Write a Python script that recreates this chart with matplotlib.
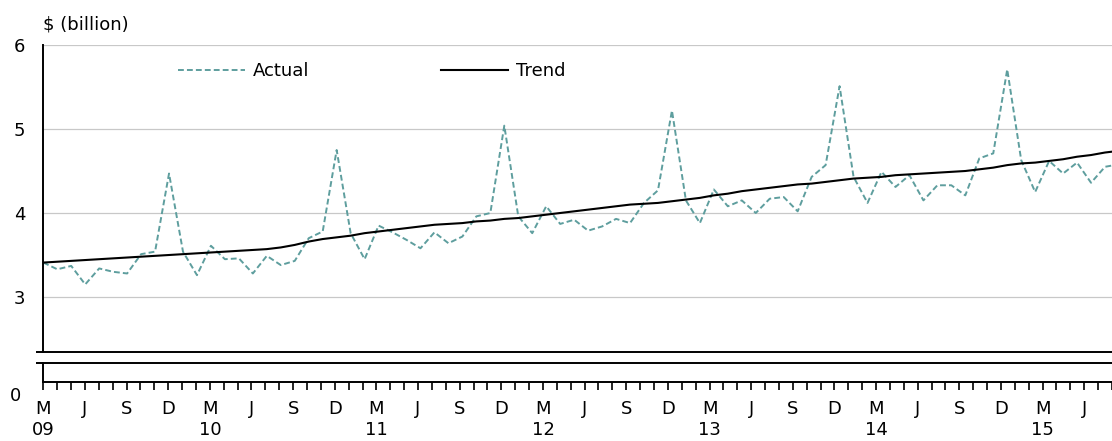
import numpy as np
import matplotlib
matplotlib.use('Agg')
import matplotlib.pyplot as plt

# monthly values, March 2009 onwards ($ billion)
actual = [3.41, 3.33, 3.37, 3.15, 3.34, 3.30, 3.28, 3.51, 3.54, 4.47, 3.54, 3.26,
          3.61, 3.45, 3.46, 3.28, 3.49, 3.38, 3.43, 3.70, 3.78, 4.75, 3.76, 3.45,
          3.85, 3.77, 3.68, 3.58, 3.77, 3.64, 3.72, 3.96, 4.00, 5.04, 3.96, 3.76,
          4.08, 3.87, 3.92, 3.79, 3.84, 3.93, 3.88, 4.12, 4.27, 5.22, 4.15, 3.88,
          4.28, 4.08, 4.15, 4.00, 4.17, 4.19, 4.02, 4.43, 4.57, 5.51, 4.43, 4.12,
          4.49, 4.31, 4.45, 4.15, 4.33, 4.33, 4.21, 4.65, 4.71, 5.71, 4.63, 4.25,
          4.62, 4.47, 4.60, 4.36, 4.55, 4.58]
trend = [3.41, 3.42, 3.43, 3.44, 3.45, 3.46, 3.47, 3.48, 3.49, 3.50, 3.51, 3.52,
         3.53, 3.54, 3.55, 3.56, 3.57, 3.59, 3.62, 3.66, 3.69, 3.71, 3.73, 3.76,
         3.78, 3.80, 3.82, 3.84, 3.86, 3.87, 3.88, 3.90, 3.91, 3.93, 3.94, 3.96,
         3.98, 4.00, 4.02, 4.04, 4.06, 4.08, 4.10, 4.11, 4.12, 4.14, 4.16, 4.18,
         4.21, 4.23, 4.26, 4.28, 4.30, 4.32, 4.34, 4.35, 4.37, 4.39, 4.41, 4.42,
         4.43, 4.45, 4.46, 4.47, 4.48, 4.49, 4.50, 4.52, 4.54, 4.57, 4.59, 4.60,
         4.62, 4.64, 4.67, 4.69, 4.72, 4.74]
years = ["09", "10", "11", "12", "13", "14", "15"]
quarters = ["M", "J", "S", "D"]
y_ticks = [3, 4, 5, 6]

x = np.arange(len(actual))
labels = []
for i in range(len(actual)):
    if i % 3 == 0:
        q = quarters[(i // 3) % 4]
        labels.append(q + "\n" + years[i // 12] if q == "M" else q)
    else:
        labels.append("")

W, H = 1112, 441
fs = 13
fig = plt.figure(figsize=(W / 100, H / 100), dpi=100)

x0, x1 = 43.3, 1112
ylo = 6 - (351.5 - 45) / 84

# upper panel
ax = fig.add_axes([x0 / W, 1 - 351.5 / H, (x1 - x0) / W, (351.5 - 45) / H])
ax.set_xlim(0, 76.5)
ax.set_ylim(ylo, 6)
ax.set_yticks(y_ticks)
ax.yaxis.grid(True, color='#c8c8c8', lw=0.9)
ax.set_axisbelow(True)
for s in ['top', 'right']:
    ax.spines[s].set_visible(False)
for s in ['left', 'bottom']:
    ax.spines[s].set_linewidth(1.4)
ax.tick_params(axis='y', length=0, pad=13, labelsize=fs)
ax.set_yticks([ylo], minor=True)
ax.tick_params(axis='y', which='minor', length=5, width=1.4, direction='out')
ax.tick_params(axis='x', bottom=False, labelbottom=False)

ax.plot(x, actual, color='#5e9e9e', lw=1.4, ls=(0, (3, 1.6)), label='Actual')
ax.plot(x, trend, color='black', lw=1.5, label='Trend')

ax.legend(ncol=2, loc='center left', bbox_to_anchor=(178 / W, 1 - 71 / H),
          bbox_transform=fig.transFigure, frameon=False, fontsize=fs,
          handlelength=3.7, handletextpad=0.45, columnspacing=7.3,
          borderpad=0, borderaxespad=0)

# lower panel (axis break down to zero)
ax2 = fig.add_axes([x0 / W, 1 - 381.7 / H, (x1 - x0) / W, (381.7 - 363.3) / H])
ax2.set_xlim(0, 76.5)
ax2.set_ylim(0, 1)
ax2.spines['right'].set_visible(False)
for s in ['left', 'top', 'bottom']:
    ax2.spines[s].set_linewidth(1.4)
ax2.set_yticks([])
ax2.set_yticks([1], minor=True)
ax2.tick_params(axis='y', which='minor', length=5, width=1.4, direction='out',
                labelleft=False)
ax2.set_xticks(x)
ax2.set_xticklabels(labels, linespacing=1.15)
ax2.tick_params(axis='x', length=5.5, width=1.2, direction='out', pad=8,
                labelsize=fs)

fig.text(15.5 / W, 1 - 396 / H, "0", ha='center', va='center', fontsize=fs)
fig.text(43 / W, 1 - 24.5 / H, r"\$ (billion)", ha='left', va='center', fontsize=fs)

fig.savefig('out.png', dpi=100)
